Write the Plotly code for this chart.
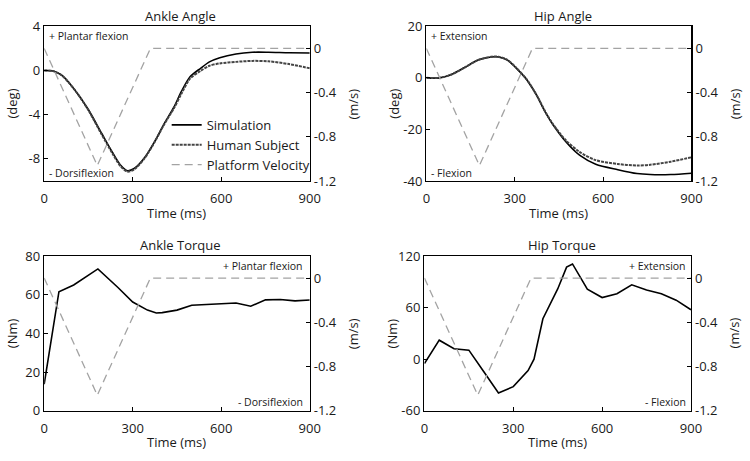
import plotly.graph_objects as go

W, H = 750, 461

# ---------------- data ----------------
vel_t = [0, 180, 360, 900]
vel_v = [0, -1.06, 0, 0]

ankle_angle_t = [0, 30, 60, 105, 150, 195, 230, 260, 282, 305, 340, 375, 405, 440,
                 465, 495, 530, 560, 595, 650, 705, 760, 830, 900]
ankle_angle_sim = [0, -0.05, -0.45, -1.8, -3.55, -5.7, -7.35, -8.6, -9.07, -8.87, -7.9,
                   -6.4, -4.9, -3.3, -1.9, -0.55, 0.2, 0.78, 1.16, 1.5, 1.65, 1.65, 1.6, 1.58]
ankle_angle_human = [0, -0.05, -0.45, -1.8, -3.6, -5.8, -7.45, -8.7, -9.15, -8.95, -7.95,
                     -6.45, -4.95, -3.4, -2.1, -0.72, -0.03, 0.43, 0.64, 0.78, 0.87, 0.83, 0.58, 0.2]

hip_angle_t = [0, 45, 85, 130, 175, 220, 245, 275, 305, 340, 375, 405, 430, 475, 520,
               575, 650, 715, 760, 830, 900]
hip_angle_sim = [0, 0, 1.3, 4.0, 6.9, 8.1, 8.1, 6.9, 3.8, -0.6, -6.9, -13.6, -18.2, -25,
                 -30, -33.5, -35.6, -37.1, -37.5, -37.5, -37.0]
hip_angle_human = [0, 0, 1.3, 4.0, 6.9, 8.2, 8.2, 7.0, 3.9, -0.5, -6.8, -13.4, -18.0, -24.4,
                   -28.7, -31.9, -33.4, -34.0, -33.7, -32.5, -30.8]

ankle_torque_t = [0, 50, 100, 150, 182, 250, 300, 350, 380, 400, 450, 500, 550, 600, 650,
                  700, 750, 800, 850, 900]
ankle_torque = [13.7, 61.5, 65, 70, 73.3, 63.7, 56.2, 52, 50.5, 50.7, 52, 54.5, 55, 55.2,
                55.7, 54, 57.3, 57.5, 56.8, 57.2]

hip_torque_t = [0, 50, 100, 150, 200, 250, 300, 350, 370, 400, 450, 480, 500, 550, 600,
                650, 700, 750, 800, 850, 900]
hip_torque = [-5.2, 22, 12, 10.4, -14.5, -39.5, -32, -13.4, 0, 47, 81.6, 107, 110.7, 81.3,
              71.6, 76, 86.5, 80.5, 76, 68.6, 57.4]

time_ticks = [0, 300, 600, 900]
vel_ticks = [0, -0.4, -0.8, -1.2]
vel_ticktext = ["0", "-0.4", "-0.8", "-1.2"]

FONT = "Open Sans"
TXT = "#1a1a1a"
FS = 13
SIM_STYLE = dict(color="black", width=1.6)
HUM_STYLE = dict(color="#444444", width=2, dash="3px,1px")
VEL_STYLE = dict(color="#a3a3a3", width=1.3, dash="8px,5px")


def px_x(px):
    return px / W


def px_y(py):
    return 1 - py / H


panels = [
    dict(box=(41, 312, 18, 179), title="Ankle Angle", ylab="(deg)", rng=[-10, 4],
         ticks=[4, 0, -4, -8], ttext=["4", "0", "-4", "-8"]),
    dict(box=(431, 701.5, 18, 179), title="Hip Angle", ylab="(deg)", rng=[-40, 20],
         ticks=[20, 0, -20, -40], ttext=["20", "0", "-20", "-40"]),
    dict(box=(41, 312, 257, 418), title="Ankle Torque", ylab="(Nm)", rng=[0, 80],
         ticks=[0, 20, 40, 60, 80], ttext=["0", "20", "40", "60", "80"]),
    dict(box=(429, 701, 257, 418), title="Hip Torque", ylab="(Nm)", rng=[-60, 120],
         ticks=[-60, 0, 60, 120], ttext=["-60", "0", "60", "120"]),
]

fig = go.Figure()
layout = dict(
    width=W, height=H, margin=dict(l=0, r=0, t=0, b=0),
    paper_bgcolor="white", plot_bgcolor="white",
    font=dict(family=FONT, size=FS, color=TXT),
    showlegend=True,
    legend=dict(x=px_x(166), y=px_y(105), xanchor="left", yanchor="top",
                bgcolor="rgba(0,0,0,0)", font=dict(size=13, color=TXT),
                traceorder="normal"),
)
annotations = []

for i, p in enumerate(panels):
    n = i + 1
    xl, xr, yt, yb = p["box"]
    xname = "xaxis" if n == 1 else f"xaxis{n}"
    yl = 2 * n - 1
    yr = 2 * n
    ylname = "yaxis" if yl == 1 else f"yaxis{yl}"
    yrname = f"yaxis{yr}"
    xref = "x" if n == 1 else f"x{n}"
    ylref = "y" if yl == 1 else f"y{yl}"
    axcommon = dict(showgrid=False, zeroline=False, showline=True, linecolor="black",
                    linewidth=1.4, ticks="inside", ticklen=4, tickcolor="black",
                    tickfont=dict(family=FONT, size=FS, color=TXT))
    layout[xname] = dict(domain=[px_x(xl), px_x(xr)], anchor=ylref, range=[0, 900],
                         tickvals=time_ticks, mirror=True, ticklabelstandoff=5, **axcommon)
    layout[ylname] = dict(domain=[px_y(yb), px_y(yt)], anchor=xref, range=p["rng"],
                          tickvals=p["ticks"], ticktext=p["ttext"], **axcommon)
    layout[yrname] = dict(overlaying=ylref, side="right", anchor=xref, range=[-1.2, 0.2],
                          tickvals=vel_ticks, ticktext=vel_ticktext, **axcommon)

    cx = (xl + xr) / 2
    cy = (yt + yb) / 2
    annotations.append(dict(text=p["title"], x=px_x(cx + 4), y=px_y(yt - 11),
                            xref="paper", yref="paper", showarrow=False,
                            font=dict(size=FS, color=TXT), xanchor="center", yanchor="middle"))
    annotations.append(dict(text="Time (ms)", x=px_x(cx), y=px_y(yb + 33),
                            xref="paper", yref="paper", showarrow=False,
                            font=dict(size=FS, color=TXT), xanchor="center", yanchor="middle"))
    annotations.append(dict(text=p["ylab"], x=px_x(xl - 33), y=px_y(cy), textangle=-90,
                            xref="paper", yref="paper", showarrow=False,
                            font=dict(size=FS, color=TXT), xanchor="center", yanchor="middle"))
    annotations.append(dict(text="(m/s)", x=px_x(xr + 44), y=px_y(cy), textangle=-90,
                            xref="paper", yref="paper", showarrow=False,
                            font=dict(size=FS, color=TXT), xanchor="center", yanchor="middle"))


def lab(text, px, py, anchor):
    annotations.append(dict(text=text, x=px_x(px), y=px_y(py), xref="paper", yref="paper",
                            showarrow=False, font=dict(size=10.5, color=TXT),
                            xanchor=anchor, yanchor="middle"))


lab("+ Plantar flexion", 44, 28, "left")
lab("- Dorsiflexion", 44, 171, "left")
lab("+ Extension", 434, 28, "left")
lab("- Flexion", 434, 171, "left")
lab("+ Plantar flexion", 307, 267, "right")
lab("- Dorsiflexion", 307, 409, "right")
lab("+ Extension", 698, 267, "right")
lab("- Flexion", 698, 409, "right")

layout["annotations"] = annotations

series = [
    (ankle_angle_t, ankle_angle_sim, ankle_angle_human),
    (hip_angle_t, hip_angle_sim, hip_angle_human),
    (ankle_torque_t, ankle_torque, None),
    (hip_torque_t, hip_torque, None),
]
for i, (t, sim, hum) in enumerate(series):
    n = i + 1
    xref = "x" if n == 1 else f"x{n}"
    ylref = "y" if n == 1 else f"y{2 * n - 1}"
    yrref = f"y{2 * n}"
    smooth = hum is not None
    sim_line = dict(**SIM_STYLE, shape="spline" if smooth else "linear")
    if smooth:
        sim_line["smoothing"] = 0.8
    fig.add_trace(go.Scatter(x=t, y=sim, mode="lines", name="Simulation", line=sim_line,
                             xaxis=xref, yaxis=ylref, showlegend=(n == 1)))
    if hum is not None:
        fig.add_trace(go.Scatter(x=t, y=hum, mode="lines", name="Human Subject",
                                 line=dict(**HUM_STYLE, shape="spline", smoothing=0.8),
                                 xaxis=xref, yaxis=ylref, showlegend=(n == 1)))
    fig.add_trace(go.Scatter(x=vel_t, y=vel_v, mode="lines", name="Platform Velocity",
                             line=VEL_STYLE, xaxis=xref, yaxis=yrref, showlegend=(n == 1)))

fig.update_layout(**layout)
fig.write_html("out.html", config={"displayModeBar": False, "staticPlot": True},
               post_script=("document.body.style.margin='0';"
                            "document.documentElement.style.overflow='hidden';"
                            "var d=document.getElementById('{plot_id}');"
                            "d.style.position='fixed';d.style.left='0px';d.style.top='0px';"))
